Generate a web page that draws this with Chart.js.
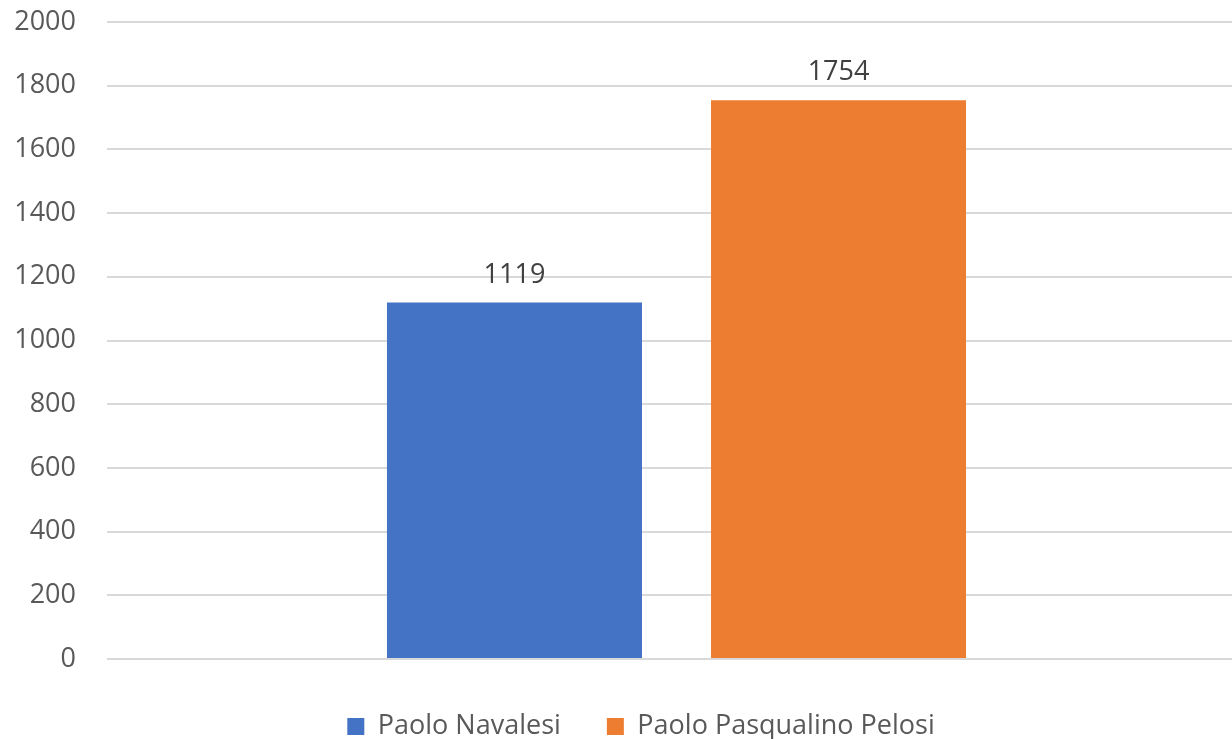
<!DOCTYPE html>
<html>
<head>
<meta charset="utf-8">
<script src="https://cdn.jsdelivr.net/npm/chart.js@4"></script>
<style>
    html, body { margin: 0; padding: 0; background: #fff; overflow: hidden; }
    .wrap { position: relative; width: 1246px; height: 750px; }
</style>
</head>
<body>
<div class="wrap"><canvas id="votes"></canvas></div>
<script>
// Chart data
const categories = [''];
const seriesNames = ['Paolo Navalesi', 'Paolo Pasqualino Pelosi'];
const navalesiVotes = [1119];
const pelosiVotes = [1754];
const seriesColors = ['#4472c4', '#ed7d31'];

// value labels above each bar
const barLabels = {
    id: 'barLabels',
    afterDatasetsDraw(chart) {
        const ctx = chart.ctx;
        ctx.save();
        ctx.font = '27px "Open Sans"';
        ctx.fillStyle = '#404040';
        ctx.textAlign = 'center';
        ctx.textBaseline = 'alphabetic';
        chart.data.datasets.forEach((ds, i) => {
            chart.getDatasetMeta(i).data.forEach((bar, j) => {
                ctx.fillText(ds.data[j], bar.x, bar.y - 20);
            });
        });
        ctx.restore();
    }
};

// nudge the legend a little to the right, like the original
const legendShift = {
    id: 'legendShift',
    afterLayout(chart) {
        if (chart.legend) {
            chart.legend.left += 13;
            chart.legend.right += 13;
        }
    }
};

document.addEventListener('DOMContentLoaded', () => {
    const ctx = document.getElementById('votes').getContext('2d');
    new Chart(ctx, {
        type: 'bar',
        data: {
            labels: categories,
            datasets: [{
                label: seriesNames[0],
                data: navalesiVotes,
                backgroundColor: seriesColors[0],
                categoryPercentage: 0.569,
                barPercentage: 0.787
            }, {
                label: seriesNames[1],
                data: pelosiVotes,
                backgroundColor: seriesColors[1],
                categoryPercentage: 0.569,
                barPercentage: 0.787
            }]
        },
        options: {
            responsive: true,
            maintainAspectRatio: false,
            animation: false,
            layout: {
                padding: { left: 10, top: 0, right: 0, bottom: 0 }
            },
            plugins: {
                legend: {
                    position: 'bottom',
                    labels: {
                        color: '#595959',
                        font: { family: 'Open Sans', size: 27 },
                        boxWidth: 17,
                        boxHeight: 17,
                        padding: 46
                    }
                },
                tooltip: { enabled: false }
            },
            scales: {
                y: {
                    min: 0,
                    max: 2000,
                    ticks: {
                        stepSize: 200,
                        color: '#595959',
                        font: { family: 'Open Sans', size: 27 },
                        padding: 31,
                        callback: (v) => String(v)
                    },
                    grid: { color: '#d9d9d9', lineWidth: 2, drawTicks: false },
                    border: { display: false },
                    afterFit: (scale) => {
                        scale.width = 97;
                        scale.paddingTop = 22;
                        scale.paddingBottom = 0;
                    }
                },
                x: {
                    ticks: { display: false },
                    grid: { display: false },
                    border: { display: false }
                }
            }
        },
        plugins: [barLabels, legendShift]
    });
});
</script>
</body>
</html>
